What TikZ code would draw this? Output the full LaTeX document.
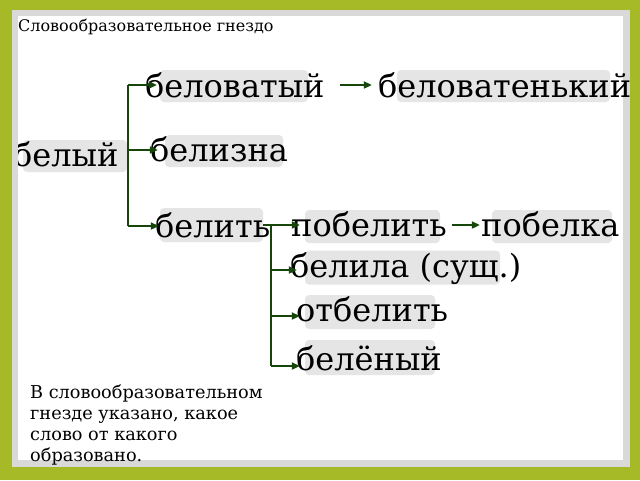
\documentclass[tikz,border=0pt]{standalone}
\usepackage{fontspec}
\setmainfont{DejaVu Serif}
\usetikzlibrary{arrows.meta}
\definecolor{olive}{RGB}{166,186,40}
\definecolor{framegray}{RGB}{217,217,217}
\definecolor{boxgray}{RGB}{229,229,229}
\definecolor{linegreen}{RGB}{22,70,10}
\begin{document}
\begin{tikzpicture}[x=1pt,y=-1pt,
  wbox/.style={draw=none,fill=boxgray,rounded corners=4pt,inner sep=0pt},
  word/.style={inner sep=0pt,anchor=base west,font=\fontsize{32}{32}\selectfont},
  conn/.style={draw=linegreen,line width=2.8pt},
  arr/.style={conn,-{Triangle[length=8pt,width=7pt]}},
]
\useasboundingbox (0,0) rectangle (640,480);
\fill[olive] (0,0) rectangle (640,480);
\fill[framegray] (12,10) rectangle (630,467);
\fill[white] (18,16) rectangle (623,460);
\node[anchor=base west,inner sep=0pt,font=\fontsize{16}{16}\selectfont] (title) at (18,31) {Словообразовательное гнездо};
% boxes
\node[wbox,minimum width=104pt,minimum height=32pt] (b0) at (75,156) {};
\node[wbox,minimum width=148pt,minimum height=32pt] (b1) at (234,86) {};
\node[wbox,minimum width=213pt,minimum height=32pt] (b2) at (503.5,86) {};
\node[wbox,minimum width=118pt,minimum height=32pt] (b3) at (224,151) {};
\node[wbox,minimum width=103pt,minimum height=34pt] (b4) at (211.5,225) {};
\node[wbox,minimum width=135pt,minimum height=33pt] (b5) at (372.5,226.5) {};
\node[wbox,minimum width=120pt,minimum height=33pt] (b6) at (552,226.5) {};
\node[wbox,minimum width=195pt,minimum height=34pt] (b7) at (402.5,267.5) {};
\node[wbox,minimum width=130pt,minimum height=34pt] (b8) at (370,312) {};
\node[wbox,minimum width=130pt,minimum height=35pt] (b9) at (370,357.5) {};
% words
\begin{scope}
\clip (18,16) rectangle (623,460);
\node[word] (w0) at (13,166) {белый};
\end{scope}
\node[word] (w1) at (145,97) {беловатый};
\node[word] (w2) at (378,97) {беловатенький};
\node[word] (w3) at (150,161) {белизна};
\node[word] (w4) at (155,237) {белить};
\node[word] (w5) at (291,236) {побелить};
\node[word] (w6) at (481,236) {побелка};
\node[word] (w7) at (290,277) {белила (сущ.)};
\node[word] (w8) at (296,321) {отбелить};
\node[word] (w9) at (296,370) {белёный};
% junctions
\coordinate (j0t) at (128,85);
\coordinate (j0m) at (128,150);
\coordinate (j0b) at (128,226);
\coordinate (j1t) at (271,225);
\coordinate (j1a) at (271,270);
\coordinate (j1b) at (271,316);
\coordinate (j1c) at (271,366);
\draw[conn] (j0t) -- (j0b);
\draw[arr] (j0t) -- ([xshift=-3pt]b1.west |- j0t);
\draw[arr] (j0m) -- ([xshift=-7pt]b3.west |- j0m);
\draw[arr] (j0b) -- ([xshift=-1pt]b4.west |- j0b);
\draw[arr] ([xshift=32pt]b1.east |- j0t) -- ([xshift=-25pt]b2.west |- j0t);
\draw[conn] (b4.east |- j1t) -- (j1t) -- (j1c);
\draw[arr] (j1t) -- ([xshift=-5pt]b5.west |- j1t);
\draw[arr] (j1a) -- ([xshift=-8pt]b7.west |- j1a);
\draw[arr] (j1b) -- ([xshift=-5pt]b8.west |- j1b);
\draw[arr] (j1c) -- ([xshift=-5pt]b9.west |- j1c);
\draw[arr] ([xshift=12pt]b5.east |- j1t) -- ([xshift=-12pt]b6.west |- j1t);
\node[anchor=north west,inner sep=0pt,align=left,font=\fontsize{17.7}{21}\selectfont] (note) at (30,385) {В словообразовательном\\гнезде указано, какое\\слово от какого\\образовано.};
\end{tikzpicture}
\end{document}
